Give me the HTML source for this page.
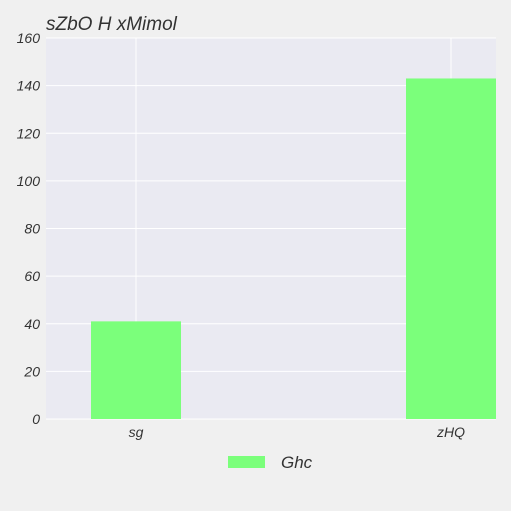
<!DOCTYPE html>
<html><head><meta charset="utf-8"><style>
html,body{margin:0;padding:0;background:#f0f0f0;}
svg{display:block;font-family:"Liberation Sans",sans-serif;}
</style></head><body>
<svg id="chart" width="511" height="511">
<defs><clipPath id="clip"><rect x="46" y="38" width="450" height="381"/></clipPath></defs>
<rect x="46" y="38" width="450" height="381" fill="#eaeaf2"/>
<g id="grid"></g>
<g id="bars" clip-path="url(#clip)"></g>
<g id="ticks"></g>
<text x="46" y="30" font-size="19" font-style="italic" fill="#333">sZbO H xMimol</text>
<rect x="228" y="456" width="37" height="12" fill="#7bff7b"/>
<text x="281" y="468" font-size="17" font-style="italic" fill="#333">Ghc</text>
</svg>
<script>
const categories = ["sg", "zHQ"];
const values = [41, 143];
const yTicks = [0, 20, 40, 60, 80, 100, 120, 140, 160];
const NS = "http://www.w3.org/2000/svg";
const top0 = 38, bot = 419, yMax = 160;
function y(v){ return bot - v / yMax * (bot - top0); }
function x(i){ return 136 + 315 * i; }
const barW = 90;
const grid = document.getElementById("grid");
const bars = document.getElementById("bars");
const ticks = document.getElementById("ticks");
function mk(tag, attrs, parent){ const e = document.createElementNS(NS, tag); for (const k in attrs) e.setAttribute(k, attrs[k]); parent.appendChild(e); return e; }
yTicks.forEach(t => {
  const l = mk("line", {x1:46, x2:496, y1:y(t), y2:y(t), stroke:"#fff", "stroke-width":1}, grid);
  
  
  const tx = mk("text", {x:40, y:y(t)+5, "text-anchor":"end", "font-size":14, "font-style":"italic", fill:"#333"}, ticks);
  tx.textContent = t;
  
  
});
categories.forEach((c, i) => {
  const l = mk("line", {x1:x(i), x2:x(i), y1:top0, y2:bot, stroke:"#fff", "stroke-width":1}, grid);
  
  
  const r = mk("rect", {x:x(i)-barW/2, y:y(values[i]), width:barW, height:bot-y(values[i]), fill:"#7bff7b"}, bars);
  
  
  const tx = mk("text", {x:x(i), y:437, "text-anchor":"middle", "font-size":14, "font-style":"italic", fill:"#333"}, ticks);
  tx.textContent = c;
  
  
});
</script>
</body></html>
